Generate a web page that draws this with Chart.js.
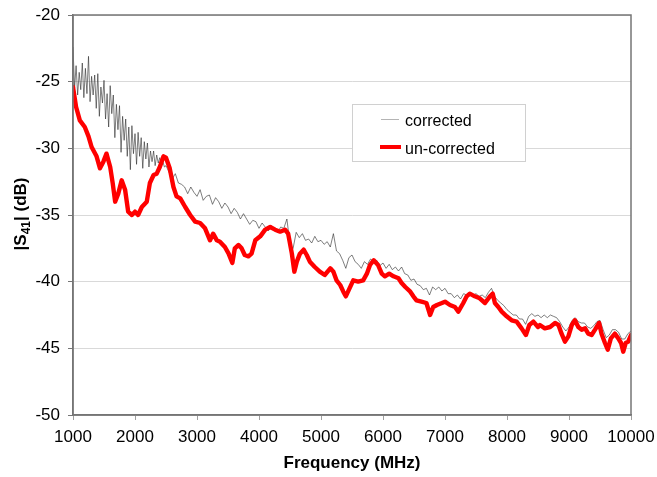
<!DOCTYPE html>
<html>
<head>
<meta charset="utf-8">
<script src="https://cdn.jsdelivr.net/npm/chart.js@4/dist/chart.umd.min.js"></script>
<style>
html,body{margin:0;padding:0;background:#fff;}
canvas{display:block;}
</style>
</head>
<body>
<canvas id="c" width="657" height="477"></canvas>
<script>
// ---- Data ----
const seriesNames = ["corrected", "un-corrected"];
const xTicks = [1000, 2000, 3000, 4000, 5000, 6000, 7000, 8000, 9000, 10000];
const yTicks = [-20, -25, -30, -35, -40, -45, -50];

// corrected (gray, noisy)
const corrFreq1 = [1000,1025,1050,1075,1100,1125,1150,1175,1200,1225,1250,1275,1300,1325,1350,1375,1400,1425,1450,1475,
  1500,1525,1550,1575,1600,1625,1650,1675,1700,1725,1750,1775,1800,1825,1850,1875,1900,1925,1950,1975,
  2000,2025,2050,2075,2100,2125,2150,2175,2200,2225,2250,2275,2300,2325,2350,2375,2400,2425,2450,2475,2500];
const corrVal1 = [-22.4,-25.5,-23.8,-26.0,-24.3,-25.6,-23.6,-26.2,-24.0,-25.9,-23.1,-26.5,-24.6,-26.0,-24.5,-27.0,-24.4,-27.6,-25.4,-26.6,
  -24.9,-27.8,-25.9,-28.4,-25.3,-27.4,-26.0,-29.2,-26.7,-28.6,-26.8,-30.3,-27.6,-29.4,-27.8,-30.6,-28.4,-31.6,-28.3,-30.4,
  -28.9,-31.2,-28.8,-30.6,-29.2,-31.5,-29.5,-30.8,-29.6,-31.4,-30.2,-31.0,-30.2,-31.3,-30.5,-31.1,-30.7,-31.2,-31.0,-31.4,-31.3];

const corrFreq2 = [2550,2600,2650,2700,2750,2800,2850,2900,2950,3000,3050,3100,3150,3200,3250,3300,3350,3400,3450,3500,
  3550,3600,3650,3700,3750,3800,3850,3900,3950,4000,4050,4100,4150,4200,4250,4300,4350,4400,4450,4500,
  4550,4600,4650,4700,4750,4800,4850,4900,4950,5000,5050,5100,5150,5200,5250,5300,5350,5400,5450,5500,
  5550,5600,5650,5700,5750,5800,5850,5900,5950,6000,6050,6100,6150,6200,6250,6300,6350,6400,6450,6500,
  6550,6600,6650,6700,6750,6800,6850,6900,6950,7000,7050,7100,7150,7200,7250,7300,7350,7400,7450,7500,
  7550,7600,7650,7700,7750,7800,7850,7900,7950,8000,8050,8100,8150,8200,8250,8300,8350,8400,8450,8500,
  8550,8600,8650,8700,8750,8800,8850,8900,8950,9000,9050,9100,9150,9200,9250,9300,9350,9400,9450,9500,
  9550,9600,9650,9700,9750,9800,9850,9900,9950,10000];
const corrVal2 = [-31.8,-32.3,-31.9,-32.6,-32.7,-32.9,-33.4,-32.9,-33.3,-33.6,-33.1,-33.9,-33.6,-33.5,-34.2,-33.7,-34.0,-34.5,-34.1,-34.4,
  -34.9,-34.5,-34.8,-35.3,-34.9,-35.3,-35.7,-35.4,-35.5,-36.0,-35.6,-35.9,-36.2,-35.8,-36.1,-36.3,-35.9,-36.0,-35.3,-37.2,
  -37.5,-36.3,-36.7,-36.4,-36.9,-36.8,-37.1,-36.6,-37.0,-36.9,-37.2,-37.0,-37.4,-36.4,-37.7,-37.9,-38.4,-39.0,-38.2,-38.0,
  -38.5,-38.7,-39.0,-38.5,-38.7,-38.3,-38.5,-38.4,-38.8,-38.6,-39.0,-38.7,-39.1,-38.9,-39.2,-38.9,-39.4,-39.5,-39.9,-39.8,
  -40.2,-40.3,-40.6,-40.5,-41.0,-40.4,-40.6,-40.4,-40.7,-40.5,-40.9,-40.9,-41.2,-41.0,-41.3,-40.9,-41.0,-40.8,-41.0,-40.9,
  -41.1,-41.0,-41.2,-40.8,-40.5,-41.1,-41.4,-41.6,-41.8,-42.1,-42.3,-42.5,-42.5,-42.8,-42.8,-43.2,-42.6,-42.4,-42.6,-42.5,
  -42.7,-42.5,-42.7,-42.5,-42.6,-42.7,-43.0,-43.4,-43.7,-43.4,-42.9,-42.7,-43.0,-43.1,-43.1,-43.4,-43.5,-43.3,-43.0,-42.9,
  -43.6,-44.2,-44.0,-43.6,-43.6,-43.8,-44.3,-44.3,-43.9,-43.7];

// un-corrected (red)
const uncFreq = [1000,1050,1110,1190,1250,1300,1380,1435,1490,1540,1600,1640,1680,1730,1785,1840,1890,1950,2000,2050,
  2110,2190,2240,2300,2350,2400,2460,2500,2560,2620,2670,2730,2810,2890,2970,3050,3130,3210,3260,3320,
  3370,3450,3510,3570,3610,3670,3720,3770,3830,3880,3940,4020,4100,4180,4260,4340,4420,4470,4530,4570,
  4610,4660,4720,4770,4820,4900,4980,5060,5150,5200,5250,5310,5360,5400,5460,5520,5600,5680,5740,5790,
  5850,5920,5980,6030,6100,6170,6250,6300,6360,6440,6490,6540,6620,6700,6760,6810,6870,6950,7000,7080,
  7160,7215,7295,7350,7400,7480,7560,7645,7725,7770,7805,7860,7915,7995,8075,8155,8235,8305,8360,8425,
  8500,8530,8610,8695,8775,8830,8880,8935,8990,9045,9095,9150,9205,9260,9310,9365,9420,9485,9525,9580,
  9625,9675,9740,9795,9840,9875,9915,9955,10000];
const uncVal = [-25.4,-26.9,-27.9,-28.4,-29.1,-29.9,-30.6,-31.5,-31.0,-30.4,-31.4,-32.6,-34.0,-33.4,-32.4,-33.1,-34.75,-35.0,-34.75,-35.0,
  -34.4,-34.0,-32.6,-32.0,-31.9,-31.4,-30.6,-30.7,-31.5,-32.9,-33.6,-33.75,-34.4,-35.0,-35.5,-35.6,-36.0,-36.9,-36.4,-36.9,
  -37.0,-37.4,-37.9,-38.6,-37.5,-37.25,-37.5,-38.0,-38.1,-37.9,-36.9,-36.6,-36.1,-35.9,-36.1,-36.25,-36.1,-36.4,-37.9,-39.25,
  -38.5,-37.9,-37.6,-38.0,-38.5,-38.9,-39.25,-39.5,-39.0,-39.25,-39.9,-40.25,-40.75,-41.1,-40.5,-39.9,-40.0,-39.9,-39.4,-38.75,
  -38.4,-38.75,-39.4,-39.6,-39.4,-39.6,-39.75,-40.1,-40.4,-40.75,-41.1,-41.4,-41.5,-41.6,-42.5,-41.9,-41.75,-41.6,-41.5,-41.75,
  -41.9,-42.25,-41.6,-41.1,-40.9,-41.1,-41.25,-41.6,-41.1,-40.9,-41.6,-41.9,-42.25,-42.6,-42.9,-43.0,-43.5,-44.0,-43.25,-43.0,
  -43.4,-43.25,-43.5,-43.4,-43.1,-43.25,-43.9,-44.5,-44.1,-43.25,-42.9,-43.4,-43.6,-43.5,-43.9,-44.0,-43.6,-43.1,-43.9,-44.6,
  -45.1,-44.25,-43.9,-44.25,-44.6,-45.25,-44.6,-44.5,-44.0];

const xTitle = "Frequency (MHz)";

// ---- Build points ----
const corrFreq = corrFreq1.concat(corrFreq2);
const corrVal = corrVal1.concat(corrVal2);
const corrPts = corrFreq.map((f, i) => ({ x: f, y: corrVal[i] }));
const uncPts = uncFreq.map((f, i) => ({ x: f, y: uncVal[i] }));

const FONT = '"Liberation Sans", Arial, Helvetica, sans-serif';
const AXIS = '#767676';

const framePlugin = {
  id: 'frame',
  afterDraw(chart) {
    const ctx = chart.ctx, a = chart.chartArea;
    ctx.save();
    ctx.strokeStyle = AXIS;
    ctx.lineWidth = 1.5;
    ctx.strokeRect(a.left, a.top, a.right - a.left, a.bottom - a.top);

    // legend box
    const lx = 352, ly = 104, lw = 173, lh = 57;
    ctx.fillStyle = '#ffffff';
    ctx.fillRect(lx, ly, lw, lh);
    ctx.strokeStyle = '#d0d0d0';
    ctx.lineWidth = 1;
    ctx.strokeRect(lx + 0.5, ly + 0.5, lw, lh);
    ctx.lineCap = 'butt';
    ctx.strokeStyle = '#b4b4b4';
    ctx.lineWidth = 1;
    ctx.beginPath(); ctx.moveTo(381, 119.5); ctx.lineTo(399, 119.5); ctx.stroke();
    ctx.strokeStyle = '#ff0000';
    ctx.lineWidth = 4;
    ctx.beginPath(); ctx.moveTo(380, 147); ctx.lineTo(401, 147); ctx.stroke();
    ctx.fillStyle = '#000';
    ctx.font = '16px ' + FONT;
    ctx.textAlign = 'left';
    ctx.textBaseline = 'alphabetic';
    ctx.fillText(seriesNames[0], 405, 126);
    ctx.fillText(seriesNames[1], 405, 153.5);

    // y-axis title with subscript
    const p1 = '|S', sub = '41', p2 = '| (dB)';
    const fMain = 'bold 17px ' + FONT, fSub = 'bold 12px ' + FONT;
    ctx.font = fMain; const w1 = ctx.measureText(p1).width, w3 = ctx.measureText(p2).width;
    ctx.font = fSub; const w2 = ctx.measureText(sub).width;
    const total = w1 + w2 + w3;
    ctx.translate(26, 214);
    ctx.rotate(-Math.PI / 2);
    const x0 = -total / 2;
    ctx.fillStyle = '#000';
    ctx.font = fMain; ctx.fillText(p1, x0, 0);
    ctx.font = fSub; ctx.fillText(sub, x0 + w1, 4);
    ctx.font = fMain; ctx.fillText(p2, x0 + w1 + w2, 0);
    ctx.restore();
  }
};

new Chart(document.getElementById('c'), {
  type: 'line',
  data: {
    datasets: [
      {
        label: seriesNames[1],
        data: uncPts,
        borderColor: '#ff0000',
        borderWidth: 4.4,
        pointRadius: 0,
        tension: 0,
        fill: false,
        borderJoinStyle: 'round',
        borderCapStyle: 'round',
        order: 0
      },
      {
        label: seriesNames[0],
        data: corrPts,
        borderColor: 'rgba(40,40,40,0.75)',
        borderWidth: 0.8,
        pointRadius: 0,
        tension: 0,
        fill: false,
        order: 1
      }
    ]
  },
  options: {
    responsive: false,
    animation: false,
    devicePixelRatio: 1,
    layout: { padding: { left: 0, top: 15, right: 26, bottom: 0 } },
    plugins: { legend: { display: false }, tooltip: { enabled: false } },
    scales: {
      x: {
        type: 'linear',
        min: 1000, max: 10000,
        afterFit(s) { s.height = 62; s.paddingLeft = 0; s.paddingRight = 0; },
        afterBuildTicks(s) { s.ticks = xTicks.map(v => ({ value: v })); },
        grid: { drawOnChartArea: false, drawTicks: true, tickLength: 5, tickColor: '#a0a0a0' },
        border: { display: true, color: AXIS, width: 1.5 },
        ticks: { autoSkip: false, maxRotation: 0, color: '#000', padding: 7, font: { family: FONT, size: 17 },
                 callback: (v) => String(v) },
        title: { display: true, text: xTitle, color: '#000', padding: { top: 0, bottom: 3 }, font: { family: FONT, size: 17, weight: 'bold' } }
      },
      y: {
        type: 'linear',
        min: -50, max: -20,
        afterFit(s) { s.width = 73; s.paddingTop = 0; s.paddingBottom = 0; },
        afterBuildTicks(s) { s.ticks = yTicks.map(v => ({ value: v })); },
        grid: { color: '#d9d9d9', lineWidth: 1, drawTicks: true, tickLength: 5, tickColor: AXIS },
        border: { display: true, color: AXIS, width: 1.5 },
        ticks: { color: '#000', padding: 8, font: { family: FONT, size: 17 }, callback: (v) => String(v) }
      }
    }
  },
  plugins: [framePlugin]
});
</script>
</body>
</html>
